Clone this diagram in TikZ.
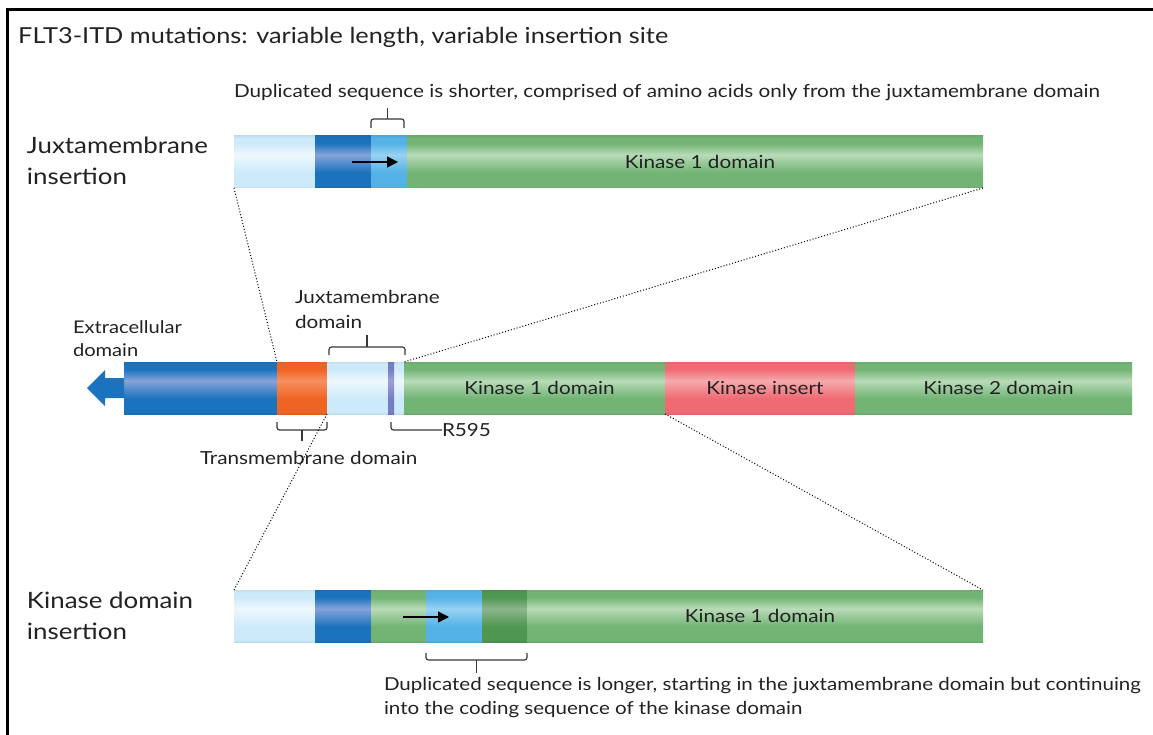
\documentclass[tikz,border=0pt]{standalone}
\usepackage{fontspec}
\setmainfont{Lato}[FakeStretch=1.15]
\usetikzlibrary{arrows.meta,calc}
\definecolor{lbC}{HTML}{CDEAFA}\definecolor{lbH}{HTML}{EEF8FD}
\definecolor{dbC}{HTML}{1B73BD}\definecolor{dbH}{HTML}{86A3DA}
\definecolor{mbC}{HTML}{54B2E6}\definecolor{mbH}{HTML}{98D2F2}
\definecolor{grC}{HTML}{72B474}\definecolor{grH}{HTML}{B8DBB8}
\definecolor{dgC}{HTML}{4F9651}\definecolor{dgH}{HTML}{8DB68E}
\definecolor{orC}{HTML}{F06423}\definecolor{orH}{HTML}{F59060}
\definecolor{rdC}{HTML}{F06A73}\definecolor{rdH}{HTML}{F5AAAD}
\definecolor{puC}{HTML}{777CC6}\definecolor{puH}{HTML}{9DA0D8}
\definecolor{txt}{HTML}{222222}
\colorlet{bbase}{grC}\colorlet{bhi}{grH}
\pgfdeclareverticalshading[bbase,bhi]{barshade}{100bp}{color(0bp)=(bbase!93!black); color(25bp)=(bbase!93!black); color(27bp)=(bbase); color(40bp)=(bbase); color(57bp)=(bhi); color(68bp)=(bbase); color(73bp)=(bbase); color(75bp)=(bbase!95!black); color(100bp)=(bbase!95!black)}
\tikzset{
  seg/.style 2 args={rectangle, inner sep=0pt, outer sep=0pt, minimum height=52pt,
    /utils/exec={\colorlet{bbase}{#1}\colorlet{bhi}{#2}}, shade, shading=barshade},
  lbl/.style={inner sep=0pt, outer sep=0pt, text=txt, font=\fontsize{18}{22}\selectfont},
  side/.style={inner sep=0pt, outer sep=0pt, text=txt, align=left, anchor=west, font=\fontsize{22.5}{31}\selectfont},
  brk/.style={draw=txt!90, line width=1.2pt, rounded corners=2.5pt},
  zoomline/.style={draw=black, dotted, line width=1pt},
  dup/.style={draw=black, line width=1.3pt, -{Triangle[length=11pt,width=11pt]}},
}
\begin{document}
\begin{tikzpicture}[x=1pt,y=-1pt]
\useasboundingbox (0,0) rectangle (1153,735);
\fill[white] (0,0) rectangle (1153,735);
\draw[line width=3pt] (7,740) -- (7,10) -- (1160,10);
\node[anchor=west, inner sep=0pt, text=txt, font=\fontsize{22}{26}\selectfont] (title) at (18,37) {FLT3-ITD mutations: variable length, variable insertion site};

% ---------- top bar
\node[seg={lbC}{lbH}, minimum width=81pt, anchor=north west] (tlb) at (234,136) {};
\node[seg={dbC}{dbH}, minimum width=56pt, anchor=north west] (tdb) at (315,136) {};
\node[seg={mbC}{mbH}, minimum width=36pt, anchor=north west] (tmb) at (371,136) {};
\node[seg={grC}{grH}, minimum width=576pt, anchor=north west] (tg) at (407,136) {};
\node[lbl] (tgl) at ($(tg.center)+(5,0)$) {Kinase 1 domain};
\coordinate (ta1) at (352,162); \coordinate (ta2) at (398,162);
\draw[dup] (ta1) -- (ta2);
\node[side] (jins) at (27,161) {Juxtamembrane\\insertion};
\node[lbl, anchor=west] (tnote) at (234,93) {Duplicated sequence is shorter, comprised of amino acids only from the juxtamembrane domain};
\draw[brk] (371,128) -- (371,119) -- (404,119) -- (404,128);
\draw[brk] (387.5,119) -- (387.5,108);

% ---------- middle bar
\node[seg={dbC}{dbH}, minimum width=153pt, anchor=north west] (mdb) at (124,362) {};
\node[seg={orC}{orH}, minimum width=50pt, anchor=north west] (mor) at (277,362) {};
\node[seg={lbC}{lbH}, minimum width=77pt, anchor=north west] (mlb) at (327,362) {};
\node[seg={puC}{puH}, minimum width=6pt, anchor=north west] (mpu) at (388,362) {};
\node[seg={grC}{grH}, minimum width=261pt, anchor=north west] (mg1) at (404,362) {};
\node[seg={rdC}{rdH}, minimum width=190pt, anchor=north west] (mrd) at (665,362) {};
\node[seg={grC}{grH}, minimum width=277pt, anchor=north west] (mg2) at (855,362) {};
\node[lbl] (mg1l) at ($(mg1.center)+(5,0)$) {Kinase 1 domain};
\node[lbl] (mrdl) at ($(mrd.center)+(5,0)$) {Kinase insert};
\node[lbl] (mg2l) at ($(mg2.center)+(5,0)$) {Kinase 2 domain};
\fill[dbC] (mdb.west) ++(0,-10) -- ++(-19,0) -- ++(0,-8) -- ++(-18,18) -- ++(18,18) -- ++(0,-8) -- ++(19,0) -- cycle;
\node[lbl, align=left, anchor=west, font=\fontsize{17.5}{23}\selectfont] (extra) at (73,338.5) {Extracellular\\domain};
\node[lbl, align=left, anchor=west, font=\fontsize{18}{25}\selectfont] (jmd) at (295,309.5) {Juxtamembrane\\domain};
\draw[brk] (329,355) -- (329,347) -- (405,347) -- (405,355);
\draw[brk] (367,347) -- (367,335);
\node[lbl, anchor=west] (tmd) at (200,458) {Transmembrane domain};
\draw[brk] (277,422) -- (277,430) -- (327,430) -- (327,422);
\draw[brk] (302,430) -- (302,441);
\node[lbl, anchor=west] (r595) at (442,430) {R595};
\draw[brk] (mpu.south) ++(0,8) |- (r595.west);

% ---------- bottom bar
\node[seg={lbC}{lbH}, minimum width=81pt, anchor=north west] (blb) at (234,590) {};
\node[seg={dbC}{dbH}, minimum width=56pt, anchor=north west] (bdb) at (315,590) {};
\node[seg={grC}{grH}, minimum width=55pt, anchor=north west] (bg1) at (371,590) {};
\node[seg={mbC}{mbH}, minimum width=56pt, anchor=north west] (bmb) at (426,590) {};
\node[seg={dgC}{dgH}, minimum width=45pt, anchor=north west] (bdg) at (482,590) {};
\node[seg={grC}{grH}, minimum width=456pt, anchor=north west] (bg2) at (527,590) {};
\node[lbl] (bg2l) at ($(bg2.center)+(5,0)$) {Kinase 1 domain};
\coordinate (ba1) at (403,617); \coordinate (ba2) at (449,617);
\draw[dup] (ba1) -- (ba2);
\node[side] (kins) at (27,616) {Kinase domain\\insertion};
\draw[brk] (426,653) -- (426,660) -- (527,660) -- (527,653);
\draw[brk] (476.5,660) -- (476.5,673);
\node[lbl, align=left, anchor=north west, font=\fontsize{17.85}{24}\selectfont] (bnote) at (384,677) {Duplicated sequence is longer, starting in the juxtamembrane domain but continuing\\into the coding sequence of the kinase domain};

% ---------- zoom lines
\draw[zoomline] (tlb.south west) -- (mor.north west);
\draw[zoomline] (tg.south east) -- (mg1.north west);
\draw[zoomline] (mor.south east) -- (blb.north west);
\draw[zoomline] (mrd.south west) -- (bg2.north east);
\end{tikzpicture}
\end{document}
